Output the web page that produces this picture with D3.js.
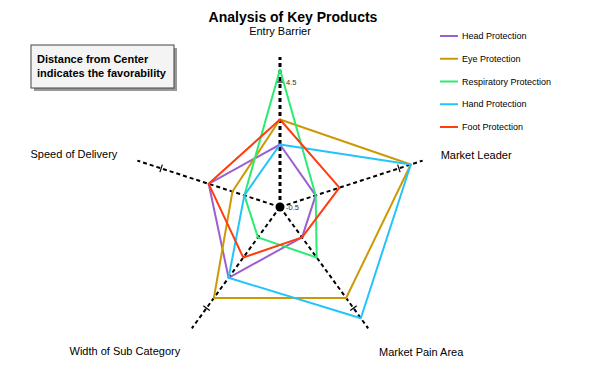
<!DOCTYPE html>
<html>
<head>
<meta charset="utf-8">
<script src="https://cdn.jsdelivr.net/npm/d3@7"></script>
<style>
  body { margin: 0; background: #fff; }
  svg { font-family: "Liberation Sans", Arial, sans-serif; }
</style>
</head>
<body>
<script>
const axesNames = ["Entry Barrier", "Market Leader", "Market Pain Area", "Width of Sub Category", "Speed of Delivery"]
const seriesNames = ["Head Protection", "Eye Protection", "Respiratory Protection", "Hand Protection", "Foot Protection"]
const headValues = [2, 1, 1, 3, 2.5]
const eyeValues = [3, 5, 4, 4, 1.5]
const respValues = [5, 1, 2, 1, 1]
const handValues = [2, 5, 5, 3, 1]
const footValues = [3, 2, 1, 2, 2.5]
const tickLabels = ["-0.5", "4.5"]
const colors = ["#9b5fd2", "#cc9906", "#2aec72", "#22c4fa", "#ff3c0c"]

const width = 610
const height = 382
const cx = 280, cy = 207
const radius = 150

const allValues = [headValues, eyeValues, respValues, handValues, footValues]

const svg = d3.select("body").append("svg").attr("width", width).attr("height", height)

const scaleR = d3.scaleLinear().domain([-0.5, 4.5]).range([0, 125])
const angle = i => -Math.PI / 2 + i * 2 * Math.PI / axesNames.length

const g = svg.append("g").attr("transform", `translate(${cx},${cy})`)

// spokes
axesNames.forEach((name, i) => {
  const a = angle(i)
  g.append("line")
    .attr("x2", radius * Math.cos(a)).attr("y2", radius * Math.sin(a))
    .style("stroke", "#000").style("stroke-width", i === 0 ? 3 : 2)
    .style("stroke-dasharray", "4,3")
  // cross tick at max value
  const r = scaleR(4.5)
  const px = r * Math.cos(a), py = r * Math.sin(a)
  const nx = -Math.sin(a) * 4, ny = Math.cos(a) * 4
  g.append("line")
    .attr("x1", px - nx).attr("y1", py - ny).attr("x2", px + nx).attr("y2", py + ny)
    .style("stroke", "#000").style("stroke-width", 1.2)
})

g.append("circle").attr("r", 4.5).style("fill", "#000")

tickLabels.forEach(t => {
  g.append("text").text(t)
    .attr("x", 6).attr("y", -scaleR(+t)).attr("dy", "0.35em")
    .style("font-size", "7.5px").style("fill", "#333")
})

// series polygons
const line = d3.lineRadial()
  .angle((d, i) => i * 2 * Math.PI / axesNames.length)
  .radius(d => scaleR(d))
  .curve(d3.curveLinearClosed)

allValues.forEach((vals, s) => {
  g.append("path").attr("d", line(vals))
    .style("fill", "none")
    .style("stroke", colors[s])
    .style("stroke-width", 2)
    .style("stroke-linejoin", "round")
})

// axis labels
const labelLayout = [
  { dx: 0, dy: -22, anchor: "middle" },
  { dx: 18, dy: -2, anchor: "start" },
  { dx: 53, dy: 28, anchor: "middle" },
  { dx: -67, dy: 27, anchor: "middle" },
  { dx: -20, dy: -3, anchor: "end" }
]
axesNames.forEach((name, i) => {
  const a = angle(i)
  g.append("text").text(name)
    .attr("x", radius * Math.cos(a) + labelLayout[i].dx)
    .attr("y", radius * Math.sin(a) + labelLayout[i].dy)
    .attr("text-anchor", labelLayout[i].anchor)
    .style("font-size", "11px").style("fill", "#000")
})

// title
svg.append("text").text("Analysis of Key Products")
  .attr("x", 293).attr("y", 22).attr("text-anchor", "middle")
  .style("font-size", "14px").style("font-weight", "bold")

// note box
const note = svg.append("g").attr("transform", "translate(31,45)")
note.append("rect").attr("x", 3).attr("y", 3).attr("width", 143).attr("height", 43).style("fill", "#999")
note.append("rect").attr("width", 143).attr("height", 43).style("fill", "#f4f4f4").style("stroke", "#444").style("stroke-width", 1)
note.append("text").text("Distance from Center").attr("x", 6).attr("y", 18)
  .style("font-size", "11px").style("font-weight", "bold")
note.append("text").text("indicates the favorability").attr("x", 6).attr("y", 32)
  .style("font-size", "11px").style("font-weight", "bold")

// legend
const legend = svg.append("g").attr("transform", "translate(440,36)")
seriesNames.forEach((name, i) => {
  const row = legend.append("g").attr("transform", `translate(0,${i * 22.75})`)
  row.append("line").attr("x2", 18).style("stroke", colors[i]).style("stroke-width", 2)
  row.append("text").text(name).attr("x", 22).attr("dy", "0.35em").style("font-size", "9px")
})
</script>
</body>
</html>
